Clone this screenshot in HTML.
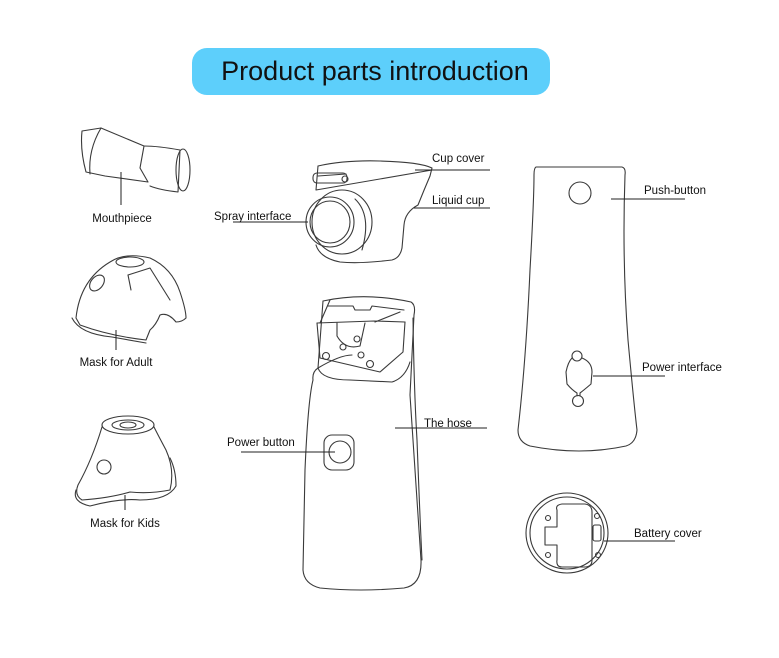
<!DOCTYPE html>
<html><head><meta charset="utf-8"><style>
html,body{margin:0;padding:0;background:#fff;}
svg{display:block}
text{font-family:"Liberation Sans",Arial,sans-serif;fill:#111}
.l{font-size:11.5px}
.s{fill:none;stroke:#3a3a3a;stroke-width:1.1;stroke-linejoin:round;stroke-linecap:round}
.k{stroke:#222;stroke-width:1}
</style></head><body>
<svg width="779" height="658" viewBox="0 0 779 658">
<rect x="192" y="48" width="358" height="47" rx="15" fill="#5dcffb"/>
<text x="375" y="80" font-size="27" text-anchor="middle">Product parts introduction</text>

<!-- Mouthpiece -->
<g class="s">
<path d="M82,131 L101,128 L144,146 L140,168 L148,182 L105,176 L86,172 Q80,150 82,131Z"/>
<path d="M101,128 Q88,150 90,174"/>
<path d="M144,146 Q158,146 180,150 L178,192 Q160,190 150,186"/>
<ellipse cx="183" cy="170" rx="7" ry="21"/>
</g>
<line class="k" x1="121" y1="172" x2="121" y2="205"/>
<text class="l" x="122" y="222" text-anchor="middle">Mouthpiece</text>

<!-- Mask adult -->
<g class="s">
<path d="M76,318 Q80,280 110,262 Q125,252 150,258 Q172,268 180,292 Q186,310 186,318 Q182,322 176,322 Q168,312 160,315 Q156,325 150,330 L146,340 Q110,336 80,325Z"/>
<path d="M72,318 Q80,334 112,337 L146,343"/>
<ellipse cx="130" cy="262" rx="14" ry="5"/>
<ellipse cx="97" cy="283" rx="6" ry="9" transform="rotate(40 97 283)"/>
<path d="M128,275 L150,268 L170,300"/>
<path d="M128,275 L131,290"/>
</g>
<line class="k" x1="116" y1="330" x2="116" y2="350"/>
<text class="l" x="116" y="366" text-anchor="middle">Mask for Adult</text>

<!-- Mask kids -->
<g class="s">
<ellipse cx="128" cy="425" rx="26" ry="9"/>
<ellipse cx="128" cy="425" rx="16" ry="5"/>
<ellipse cx="128" cy="425" rx="8" ry="3"/>
<path d="M102,427 Q92,460 78,485 Q74,495 82,500 Q110,498 130,492 Q150,494 170,490 Q175,470 166,450 Q158,435 154,427"/>
<path d="M76,490 Q72,502 90,506 Q120,498 140,500 Q168,500 176,486 Q176,470 170,458"/>
<circle cx="104" cy="467" r="7"/>
</g>
<line class="k" x1="125" y1="495" x2="125" y2="510"/>
<text class="l" x="125" y="527" text-anchor="middle">Mask for Kids</text>

<!-- Cup -->
<g class="s">
<path d="M318,166 Q345,160 380,161 Q420,162 432,168 L430,176 Q424,190 418,205 Q405,212 404,225 L402,248 Q400,258 392,260 Q360,264 340,262 Q320,258 316,245"/>
<path d="M318,166 L316,190 L432,170"/>
<path d="M318,176 L346,174"/>
<rect x="313" y="173" width="34" height="10" rx="4"/>
<circle cx="345" cy="179" r="3"/>
<ellipse cx="342" cy="222" rx="30" ry="32"/>
<ellipse cx="330" cy="222" rx="24" ry="25"/>
<ellipse cx="330" cy="222" rx="20" ry="21"/>
<path d="M355,199 Q372,215 362,250"/>
</g>
<line class="k" x1="415" y1="170" x2="490" y2="170"/>
<text class="l" x="432" y="162">Cup cover</text>
<line class="k" x1="414" y1="208" x2="490" y2="208"/>
<text class="l" x="432" y="204">Liquid cup</text>
<line class="k" x1="233" y1="222" x2="308" y2="222"/>
<text class="l" x="214" y="220">Spray interface</text>

<!-- Main body -->
<g class="s">
<path d="M323,301 Q365,292 411,302 Q416,305 414,315 L410,395 Q414,460 421,560 Q422,585 404,588 Q360,592 320,588 Q304,584 303,570 L305,470 Q308,400 313,380 Q312,372 318,368"/>
<path d="M323,301 L318,368 Q340,355 352,355"/>
<path d="M317,323 L320,358 L380,372 L403,352 L405,322"/>
<path d="M317,323 L374,321 L405,322"/>
<path d="M328,306 L353,306 L355,310 L370,310 L372,306 L404,310"/>
<path d="M320,323 L330,300"/>
<path d="M375,322 L400,312"/>
<path d="M337,323 L337,336 Q345,350 360,346 L365,323"/>
<circle cx="357" cy="339" r="3"/><circle cx="343" cy="347" r="3"/><circle cx="361" cy="355" r="3"/><circle cx="326" cy="356" r="3.5"/><circle cx="370" cy="364" r="3.5"/>
<path d="M318,368 Q322,380 350,380 L392,382 Q405,378 410,362"/>
<path d="M413,318 Q414,390 417,440 Q420,520 422,560"/>
<rect x="324" y="435" width="30" height="35" rx="8"/>
<circle cx="340" cy="452" r="11"/>
</g>
<line class="k" x1="241" y1="452" x2="335" y2="452"/>
<text class="l" x="227" y="446">Power button</text>
<line class="k" x1="395" y1="428" x2="487" y2="428"/>
<text class="l" x="424" y="427">The hose</text>

<!-- Back body -->
<g class="s">
<path d="M536,167 L622,167 Q626,168 625,175 Q622,260 628,340 Q634,405 637,430 Q636,443 626,446 Q580,456 530,446 Q518,442 518,430 Q526,360 530,270 Q534,200 534,175 Q534,168 536,167Z"/>
<circle cx="580" cy="193" r="11"/>
<path d="M572,358 Q568,362 566,372 L567,384 Q572,390 577,393 L577,396"/>
<path d="M582,358 Q592,362 592,372 L591,384 Q584,390 580,393 L580,396"/>
<circle cx="577" cy="356" r="5"/>
<circle cx="578" cy="401" r="5.5"/>
</g>
<line class="k" x1="611" y1="199" x2="685" y2="199"/>
<text class="l" x="644" y="194">Push-button</text>
<line class="k" x1="593" y1="376" x2="665" y2="376"/>
<text class="l" x="642" y="371">Power interface</text>

<!-- Battery cover -->
<g class="s">
<ellipse cx="567" cy="533" rx="41" ry="40"/>
<ellipse cx="567" cy="533" rx="37" ry="36"/>
<path d="M557,510 Q555,505 562,504 L585,504 Q592,505 592,512 L592,560 Q592,567 585,567 L562,567 Q556,567 557,560 L557,545 L545,545 L545,527 L557,527Z"/>
<rect x="593" y="525" width="8" height="16" rx="2"/>
<circle cx="548" cy="518" r="2.5"/><circle cx="597" cy="516" r="2.5"/><circle cx="548" cy="555" r="2.5"/><circle cx="598" cy="555" r="2.5"/>
</g>
<line class="k" x1="604" y1="541" x2="675" y2="541"/>
<text class="l" x="634" y="537">Battery cover</text>
</svg>
</body></html>
